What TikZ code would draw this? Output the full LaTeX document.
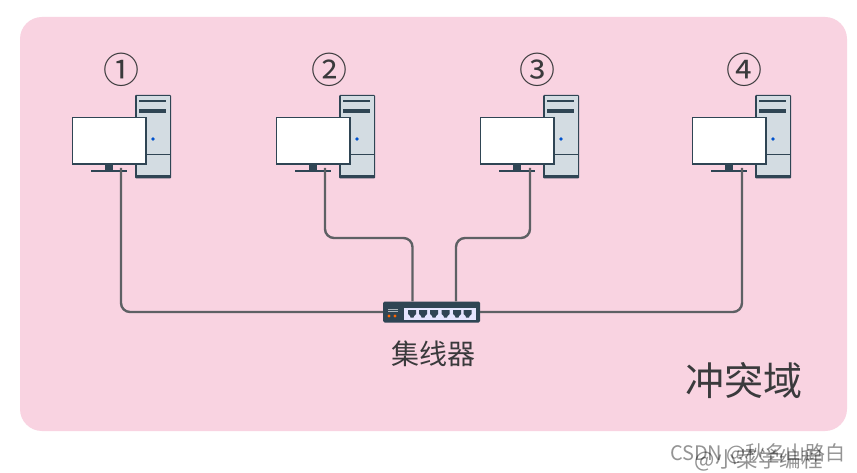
\documentclass[tikz,border=0pt]{standalone}
\usepackage{fontspec}
\newfontfamily\cjk{Noto Sans CJK SC}
\definecolor{bgpink}{HTML}{F9D3E1}
\definecolor{dark}{HTML}{2F4554}
\definecolor{towerc}{HTML}{D3DCE2}
\definecolor{wire}{HTML}{5E6064}
\definecolor{txt}{HTML}{3A3A3C}
\tikzset{
  wireline/.style={draw=wire,line width=2.4pt,rounded corners=9pt},
  numlabel/.style={font=\cjk\fontsize{36}{36}\selectfont,text=txt,inner sep=0pt},
  hublabel/.style={font=\cjk\fontsize{28}{28}\selectfont,text=txt,inner sep=0pt},
  domlabel/.style={font=\cjk\fontsize{39}{39}\selectfont,text=txt,inner sep=0pt},
  wmark/.style={font=\cjk\fontsize{20}{20}\selectfont,text=black,opacity=.42,inner sep=0pt},
  wmarkb/.style={font=\cjk\fontsize{21.5}{21.5}\selectfont,text=black,opacity=.42,inner sep=0pt},
  pics/computer/.style={code={
    \fill[dark,rounded corners=1pt] (135,95) rectangle (171,178.5);
    \fill[towerc] (136.5,96.5) rectangle (169.5,175);
    \fill[dark] (139,100) rectangle (166,102.5);
    \fill[dark] (139,109) rectangle (166,113);
    \draw[dark,line width=.8pt] (136,154.5) -- (170,154.5);
    \fill[blue!60!cyan!80!black] (153,139) circle (1.8);
    \fill[dark] (105,164) rectangle (113,170);
    \fill[dark] (91,169.8) rectangle (127,172.2);
    \draw[dark,fill=white,line width=1.3pt] (72.5,117.5) rectangle (146,164);
  }},
}
\begin{document}
\begin{tikzpicture}[x=1pt,y=-1pt]
\useasboundingbox (0,0) rectangle (857,473);
\fill[white] (0,0) rectangle (857,473);
\fill[bgpink,rounded corners=22pt] (20,17) rectangle (847,431);

\node[numlabel] (n1) at (121,70) {①};
\node[numlabel] (n2) at (329,70) {②};
\node[numlabel] (n3) at (537,70) {③};
\node[numlabel] (n4) at (744,70) {④};

\coordinate (p1) at (121,168);
\coordinate (p2) at (325,168);
\coordinate (p3) at (530,168);
\coordinate (p4) at (742,168);
\coordinate (bend2) at (412.5,238);
\coordinate (bend3) at (456,238);

\pic at (0,0) {computer};
\pic at (204,0) {computer};
\pic at (408,0) {computer};
\pic at (620,0) {computer};

\node[fill=dark,rounded corners=1.5pt,minimum width=97pt,minimum height=21pt,inner sep=0pt] (hub) at (431.5,312) {};

\draw[wireline] (p1) |- (hub.west);
\draw[wireline] (p4) |- (hub.east);
\draw[wireline] (p2) |- (bend2) -- (bend2 |- hub.north);
\draw[wireline] (p3) |- (bend3) -- (bend3 |- hub.north);

\fill[white!90!blue] (404,307.5) rectangle (476,320);
\foreach \x in {412,423,434,445.5,457,467.5}{
  \fill[dark] (\x-4,310) -- (\x+4,310) -- (\x+4,314) -- (\x+2,316) -- (\x+1.5,317.5) -- (\x-1.5,317.5) -- (\x-2,316) -- (\x-4,314) -- cycle;
}
\fill[orange!80!red] (389,316) circle (1.6);
\fill[orange!80!red] (395,316) circle (1.6);
\draw[white!60!dark,line width=.5pt] (388,309) -- (398,309);
\draw[white!60!dark,line width=.5pt] (388,311.5) -- (398,311.5);

\node[hublabel] (hubtext) at (433,354) {集线器};
\node[domlabel] (domain) at (744,381) {冲突域};
\node[wmark,anchor=east] (wm1) at (846,454) {CSDN @秋名山路白};
\node[wmarkb,anchor=east] (wm2) at (823,460) {@小菜学编程};
\end{tikzpicture}
\end{document}
